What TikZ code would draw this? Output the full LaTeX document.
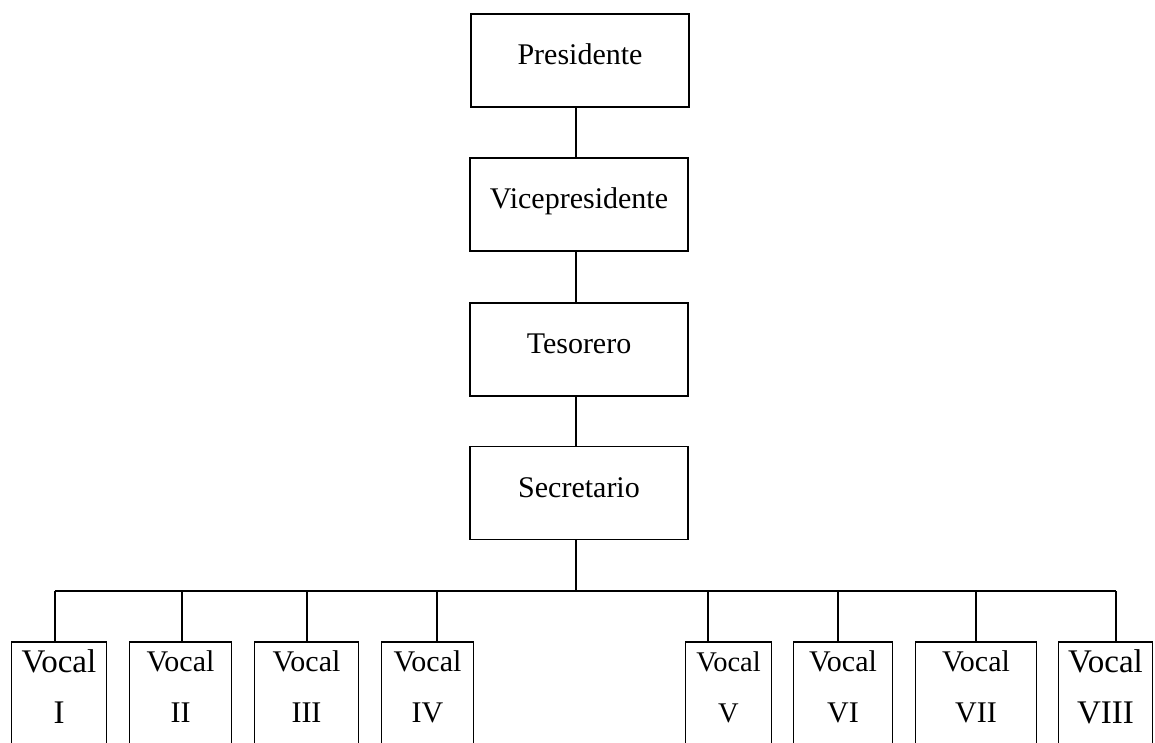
\documentclass[tikz,border=0pt]{standalone}
\usepackage{fontspec}
\setmainfont{Liberation Serif}
\begin{document}
\begin{tikzpicture}[x=1pt,y=-1pt,line width=1.1pt,
  mainbox/.style={draw, minimum width=218pt, minimum height=93pt, inner sep=0pt,
    text height=20pt, text depth=12pt, font=\fontsize{30}{36}\selectfont},
  vbox/.style={minimum height=100pt, anchor=north, inner sep=0pt},
  vtext/.style={align=center, inner sep=0pt, font=\fontsize{30}{51}\selectfont},
  vtextsm/.style={align=center, inner sep=0pt, font=\fontsize{28.5}{51}\selectfont},
  vtextlg/.style={align=center, inner sep=0pt, font=\fontsize{33}{51}\selectfont}]
\useasboundingbox (0,0) rectangle (1155,742);
\node[mainbox] (pres) at (580,60.5) {Presidente};
\node[mainbox] (vice) at (579,204.5) {Vicepresidente};
\node[mainbox] (teso) at (579,349.5) {Tesorero};
\node[mainbox] (secr) at (579,493) {Secretario};
\coordinate (ax) at (576,0);
\draw (pres.south -| ax) -- (vice.north -| ax);
\draw (vice.south -| ax) -- (teso.north -| ax);
\draw (teso.south -| ax) -- (secr.north -| ax);
% vocal boxes
\node[vbox, minimum width=94pt] (v1) at (59,642) {};
\node[vbox, minimum width=101pt] (v2) at (180.5,642) {};
\node[vbox, minimum width=103pt] (v3) at (306.5,642) {};
\node[vbox, minimum width=91pt] (v4) at (427.5,642) {};
\node[vbox, minimum width=85pt] (v5) at (728.5,642) {};
\node[vbox, minimum width=98pt] (v6) at (843,642) {};
\node[vbox, minimum width=120pt] (v7) at (976,642) {};
\node[vbox, minimum width=93pt] (v8) at (1105.5,642) {};
\foreach \v in {v1,v2,v3,v4,v5,v6,v7,v8}
  \draw (\v.south west) -- (\v.north west) -- (\v.north east) -- (\v.south east);
\node[vtextlg] (l1) at (59,687) {Vocal\\I};
\node[vtext] (l2) at (180.5,687) {Vocal\\II};
\node[vtext] (l3) at (306.5,687) {Vocal\\III};
\node[vtext] (l4) at (427.5,687) {Vocal\\IV};
\node[vtextsm] (l5) at (728.5,687) {Vocal\\V};
\node[vtext] (l6) at (843,687) {Vocal\\VI};
\node[vtext] (l7) at (976,687) {Vocal\\VII};
\node[vtextlg] (l8) at (1105.5,687) {Vocal\\VIII};
% bus
\coordinate (t1) at (55,591);
\coordinate (t2) at (182,591);
\coordinate (t3) at (307,591);
\coordinate (t4) at (437,591);
\coordinate (t5) at (708,591);
\coordinate (t6) at (838,591);
\coordinate (t7) at (976,591);
\coordinate (t8) at (1116,591);
\draw (secr.south -| ax) -- (t1 -| ax);
\draw (t1) -- (t8);
\draw (t1) -- (t1 |- v1.north);
\draw (t2) -- (t2 |- v2.north);
\draw (t3) -- (t3 |- v3.north);
\draw (t4) -- (t4 |- v4.north);
\draw (t5) -- (t5 |- v5.north);
\draw (t6) -- (t6 |- v6.north);
\draw (t7) -- (t7 |- v7.north);
\draw (t8) -- (t8 |- v8.north);
\end{tikzpicture}
\end{document}
